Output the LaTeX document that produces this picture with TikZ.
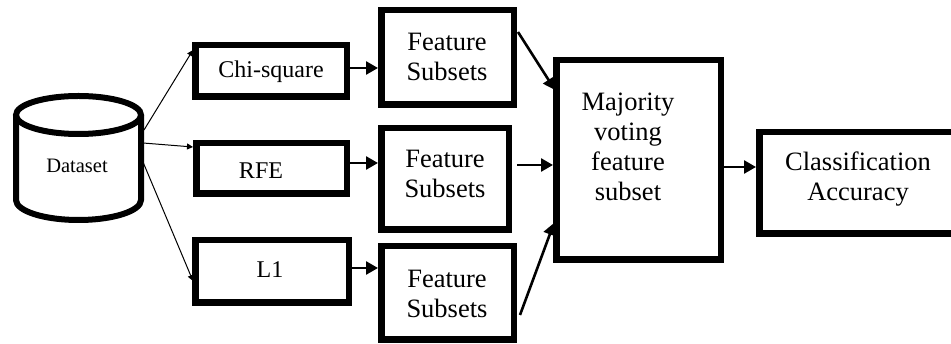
\documentclass[tikz,border=0pt]{standalone}
\usepackage{fontspec}
\setmainfont{Liberation Serif}
\usetikzlibrary{arrows.meta}
\tikzset{
  box/.style={draw=black, line width=6.5pt, fill=white, inner sep=0pt},
  lbl/.style={inner sep=0pt, align=center, font=\fontsize{26.5}{30}\selectfont},
  slbl/.style={inner sep=0pt, align=center, font=\fontsize{24}{28}\selectfont},
  thickarrow/.style={line width=2.6pt, -{Triangle[length=12pt,width=13pt]}},
  thinarrow/.style={line width=1pt, -{Triangle[length=6pt,width=6pt]}},
}
\begin{document}
\begin{tikzpicture}[x=1pt,y=-1pt]
\useasboundingbox (0,0) rectangle (951,344);
\fill[white] (0,0) rectangle (951,344);
% cylinder
\draw[line width=6pt, fill=white] (16,115) -- (16,200) arc[start angle=180, end angle=360, x radius=62.5pt, y radius=20pt] -- (141,115);
\draw[line width=6pt] (78.5,115) ellipse [x radius=62.5pt, y radius=19pt];
\node[inner sep=0pt, font=\fontsize{20.5}{24}\selectfont] (ds) at (77,166) {Dataset};
\coordinate (ds1) at (144,130);
\coordinate (ds2) at (143,143);
\coordinate (ds3) at (143,162);
% method boxes
\node[box, minimum width=151.5pt, minimum height=51.5pt] (chi) at (271,71) {};
\node[box, minimum width=150.5pt, minimum height=50.5pt] (rfe) at (271.5,168.5) {};
\node[box, minimum width=153.5pt, minimum height=62.5pt] (l1) at (272,271.5) {};
\node[slbl] (chit) at (271,72) {Chi-square};
\node[slbl] (rfet) at (261,171) {RFE};
\node[slbl] (l1t) at (270,270) {L1};
% feature subset boxes
\node[box, minimum width=132.5pt, minimum height=94.5pt] (fs1) at (447.5,57.5) {};
\node[box, minimum width=127.5pt, minimum height=101.5pt] (fs2) at (445,179) {};
\node[box, minimum width=132.5pt, minimum height=93.5pt] (fs3) at (447.5,293) {};
\node[lbl] (fs1t) at (447,57) {Feature\\Subsets};
\node[lbl] (fs2t) at (445,174) {Feature\\Subsets};
\node[lbl] (fs3t) at (447,294) {Feature\\Subsets};
% majority and classification
\node[box, minimum width=164.5pt, minimum height=199.5pt] (maj) at (638.5,160) {};
\node[lbl] (majt) at (628,147) {Majority\\voting\\feature\\subset};
\node[box, minimum width=195.5pt, minimum height=101.5pt] (cls) at (857,183) {};
\node[lbl] (clst) at (858,179) {Classification\\Accuracy};
% thin arrows
\draw[thinarrow] (ds1) -- ([shift={(1,-21)}]chi.west);
\draw[thinarrow] (ds2) -- ([shift={(0,-21.5)}]rfe.west);
\draw[thinarrow] (ds3) -- ([shift={(1,9.5)}]l1.west);
% thick arrows
\draw[thickarrow] ([shift={(0,-3)}]chi.east) -- ([shift={(0,-3)}]chi.east -| fs1.west);
\draw[thickarrow] ([shift={(0,-5.5)}]rfe.east) -- ([shift={(0,-5.5)}]rfe.east -| fs2.west);
\draw[thickarrow] ([shift={(0,-3.5)}]l1.east) -- ([shift={(0,-3.5)}]l1.east -| fs3.west);
\draw[thickarrow] ([shift={(1,25)}]fs1.north east) -- ([shift={(2,33)}]maj.north west);
\draw[thickarrow] ([shift={(5,-14)}]fs2.east) -- ([shift={(0,5)}]maj.west);
\draw[thickarrow] ([shift={(3,72)}]fs3.north east) -- ([shift={(1,-40)}]maj.south west);
\draw[thickarrow] ([shift={(0,7)}]maj.east) -- ([shift={(0,7)}]maj.east -| cls.west);
\end{tikzpicture}
\end{document}
